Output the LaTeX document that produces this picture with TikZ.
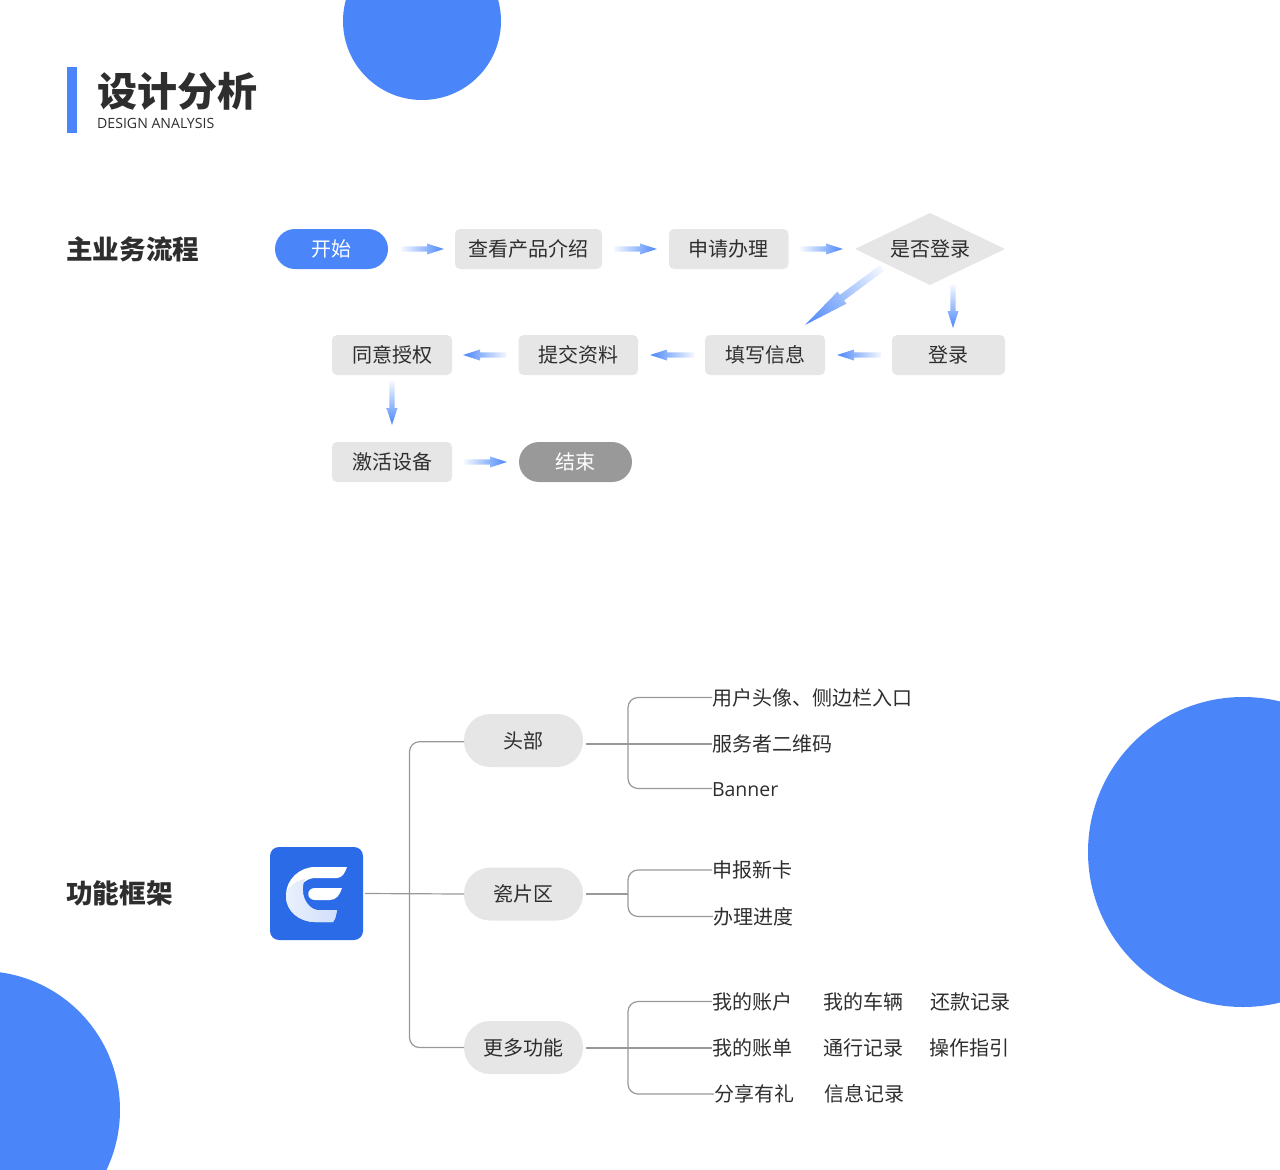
\documentclass[tikz,border=0pt]{standalone}
\usepackage{fontspec}
\usetikzlibrary{positioning,calc,shapes.geometric}
\newfontfamily\cjk{Noto Sans CJK SC}
\newfontfamily\latinfont{Open Sans}
\definecolor{mainblue}{HTML}{4A86FA}
\definecolor{boxgrey}{HTML}{E6E6E6}
\definecolor{linegrey}{HTML}{999999}
\definecolor{inkgrey}{HTML}{2E2E2E}
\definecolor{logoblue}{HTML}{2C6BE8}

\tikzset{
	box/.style={rectangle,rounded corners=5pt,fill=boxgrey,text=inkgrey,minimum height=40pt,inner sep=0pt,outer sep=0pt,font=\cjk\fontsize{20}{20}\selectfont,text height=17.6pt,text depth=2.4pt},
	pill/.style={box,rounded corners=20pt},
	hub/.style={box,rounded corners=26pt,minimum width=119pt,minimum height=53pt},
	leaf/.style={anchor=west,inner sep=0pt,outer sep=0pt,text=inkgrey,font=\cjk\fontsize{20}{20}\selectfont,text height=17.6pt,text depth=2.4pt},
	link/.style={draw=linegrey,line width=1.2pt,rounded corners=10pt},
	heading/.style={anchor=west,inner sep=0pt,text=inkgrey,font=\cjk\bfseries\fontsize{26.6}{27}\selectfont},
	disc/.style={fill=mainblue}
}

\def\headlen{17}
\def\headwid{5.5}
\def\shaftwid{2.7}
\newcommand{\flowarrow}[4]{
	\coordinate (arrowa) at ($(#1)!#3pt!(#2)$);
	\coordinate (arrowb) at ($(#2)!#4pt!(#1)$);
	\path let \p1=($(arrowb)-(arrowa)$) in \pgfextra{
		\pgfmathsetmacro\tmpang{atan2(\y1,\x1)}\global\let\arrowang\tmpang
		\pgfmathsetmacro\tmplen{veclen(\x1,\y1)}\global\let\arrowlen\tmplen};
	\pgfmathsetmacro\arrowneck{\arrowlen-\headlen}
	\shade[transform canvas={shift={(arrowa)},rotate=\arrowang},left color=mainblue!6,middle color=mainblue!92,right color=mainblue]
		(0,-\shaftwid) -- (\arrowneck,-\shaftwid) -- (\arrowneck,-\headwid) -- (\arrowlen,0) -- (\arrowneck,\headwid) -- (\arrowneck,\shaftwid) -- (0,\shaftwid) -- cycle;
}

\begin{document}
\begin{tikzpicture}[x=1pt,y=-1pt,node distance=67pt]
	\useasboundingbox (0,0) rectangle (1280,1170);
	\begin{scope}
		\clip (0,0) rectangle (1280,1170);
		\fill[disc] (422,21) circle (79);
		\fill[disc] (1243,852) circle (155);
		\fill[disc] (-19,1110) circle (139);
	\end{scope}

	% title
	\node [rectangle,fill=mainblue,minimum width=10pt,minimum height=66pt,inner sep=0pt] (titlebar) at (72,100) {};
	\node [heading,font=\cjk\bfseries\fontsize{40}{40}\selectfont] (title) at (97,91) {设计分析};
	\node [anchor=west,inner sep=0pt,text=inkgrey,font=\latinfont\fontsize{14.1}{15}\selectfont] (subtitle) at (97,123) {DESIGN ANALYSIS};
	\node [heading] (flowhead) at (66,249) {主业务流程};
	\node [heading] (framehead) at (66,893) {功能框架};

	% flow
	\node [pill,fill=mainblue,text=white,minimum width=113pt] (start) at (331.5,249) {开始};
	\node [box,minimum width=147pt,right=of start] (product) {查看产品介绍};
	\node [box,minimum width=119.5pt,right=of product] (apply) {申请办理};
	\node [diamond,fill=boxgrey,text=inkgrey,aspect=2.08,minimum width=150pt,minimum height=72pt,inner sep=-8pt,outer sep=0pt,font=\cjk\fontsize{20}{20}\selectfont,text height=17.6pt,text depth=2.4pt,right=66.5pt of apply] (ask) {是否登录};
	\node [box,minimum width=113pt] (login) at (948.5,355) {登录};
	\node [box,minimum width=120pt,left=of login] (fillin) {填写信息};
	\node [box,minimum width=119.5pt,left=of fillin] (submit) {提交资料};
	\node [box,minimum width=120pt,left=66.5pt of submit] (agree) {同意授权};
	\node [box,minimum width=120pt,below=of agree] (device) {激活设备};
	\node [pill,fill=linegrey,text=white,minimum width=113pt,right=of device] (finish) {结束};

	\flowarrow{start.east}{product.west}{13}{11}
	\flowarrow{product.east}{apply.west}{12}{12}
	\flowarrow{apply.east}{ask.west}{12}{12}
	\flowarrow{login.west}{fillin.east}{11}{12}
	\flowarrow{fillin.west}{submit.east}{11}{12}
	\flowarrow{submit.west}{agree.east}{12}{11}
	\flowarrow{agree.south}{device.north}{6}{17}
	\flowarrow{device.east}{finish.west}{12}{12}
	\coordinate (asklow) at ($(ask.south)+(23,0)$);
	\coordinate (loginhigh) at ($(login.north)+(4.5,0)$);
	\flowarrow{asklow}{loginhigh}{0}{7}
	\def\headlen{46}\def\headwid{7.5}\def\shaftwid{3.5}
	\coordinate (askside) at (882,268);
	\coordinate (fillinhigh) at (805,325);
	\flowarrow{askside}{fillinhigh}{0}{0}

	% frame
	\node [rectangle,rounded corners=9pt,fill=logoblue,minimum size=93pt,inner sep=0pt,outer sep=0pt] (logo) at (316.5,893.5) {};
	\fill[white] (347,867) -- (315,867) .. controls (299,867) and (286,880) .. (286,895) .. controls (286,910) and (299,922) .. (315,922) -- (333,922) .. controls (336,918) and (336,914) .. (337,910) -- (315,910) .. controls (306,910) and (298,904) .. (298,895) .. controls (298,886) and (306,878) .. (315,878) -- (337,878) .. controls (342,878) and (345,873) .. (347,867) -- cycle;
	\shade[left color=white!90!logoblue,right color=white!78!logoblue] (305,879) .. controls (294,881) and (286,888) .. (286,897) .. controls (286,911) and (299,922) .. (315,922) -- (333,922) .. controls (336,918) and (336,914) .. (337,910) -- (317,910) .. controls (306,908) and (299,892) .. (305,879) -- cycle;
	\fill[white] (342,888) -- (315,888) .. controls (306,888) and (306,900) .. (315,900) -- (330,900) .. controls (336,900) and (340,895) .. (342,888) -- cycle;

	\node [hub] (head) at (523.5,740.5) {头部};
	\node [hub] (tile) at (523.5,894) {瓷片区};
	\node [hub] (more) at (523.5,1047.5) {更多功能};

	\coordinate (trunk) at (409.5,894);
	\coordinate (headin) at ($(head.west)+(0,1.2)$);
	\draw [link,shorten <=2pt] (logo.east) -- (tile.west);
	\draw [link] (headin) -| (trunk) |- (more.west);

	\node [leaf] (avatar) at (712,697.5) {用户头像、侧边栏入口};
	\node [leaf] (qrcode) at (712,743.5) {服务者二维码};
	\node [leaf,font=\latinfont\fontsize{19.5}{20}\selectfont] (banner) at (712,788.5) {Banner};
	\node [leaf] (newcard) at (712,870) {申报新卡};
	\node [leaf] (progress) at (713,916.5) {办理进度};
	\node [leaf] (account) at (712,1001.5) {我的账户};
	\node [leaf] (bill) at (712,1047.5) {我的账单};
	\node [leaf] (gift) at (714,1094) {分享有礼};
	\node [leaf] (vehicle) at (823,1001.5) {我的车辆};
	\node [leaf] (passage) at (823,1047.5) {通行记录};
	\node [leaf] (message) at (824,1094) {信息记录};
	\node [leaf] (repay) at (930,1001.5) {还款记录};
	\node [leaf] (guide) at (929,1047.5) {操作指引};

	\coordinate (headbus) at (628,744);
	\coordinate (tilebus) at (628,894);
	\coordinate (morebus) at (628,1048);
	\draw [link,shorten <=3pt] (head.east |- headbus) -- (qrcode.west |- headbus);
	\draw [link] (avatar.west) -| (headbus) |- (banner.west);
	\draw [link,shorten <=3pt] (tile.east) -- (tilebus);
	\draw [link] (newcard.west) -| (tilebus) |- (progress.west);
	\draw [link,shorten <=3pt] (more.east |- morebus) -- (bill.west |- morebus);
	\draw [link] (account.west) -| (morebus) |- (gift.west);
\end{tikzpicture}
\end{document}
